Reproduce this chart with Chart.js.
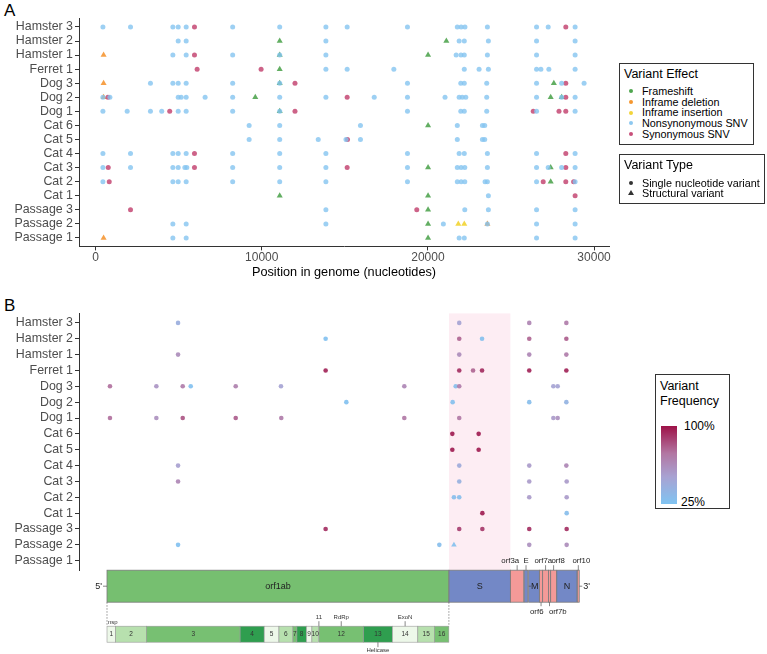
<!DOCTYPE html>
<html>
<head>
<meta charset="utf-8">
<script src="https://cdn.jsdelivr.net/npm/chart.js@4.4.0/dist/chart.umd.min.js"></script>
<style>
  body { margin: 0; width: 767px; height: 654px; background: #fff; position: relative; overflow: hidden;
         font-family: "Liberation Sans", Arial, sans-serif; }
  canvas { position: absolute; left: 0; }
  #chartA { top: 0; }
  #chartB { top: 295px; }
  .tag { position: absolute; left: 4px; font-size: 17px; color: #000; }
  .legend { position: absolute; border: 1px solid #333; background: #fff; color: #000; box-sizing: border-box; }
  .legend .title { position: absolute; left: 4px; font-size: 12.5px; line-height: 15px; white-space: nowrap; }
  .legend .items { position: absolute; left: 0; right: 0; }
  .item { position: relative; font-size: 10.8px; padding-left: 22px; white-space: nowrap; }
  .dot { position: absolute; left: 9px; top: 50%; width: 4px; height: 4px; margin-top: -2px; border-radius: 50%; }
  .tri { position: absolute; left: 8px; top: 50%; margin-top: -3px; width: 0; height: 0;
         border-left: 3px solid transparent; border-right: 3px solid transparent; border-bottom: 5px solid #333; }
</style>
</head>
<body>
<div class="tag" style="top:1px">A</div>
<div class="tag" style="top:296px">B</div>
<canvas id="chartA" width="767" height="285"></canvas>
<canvas id="chartB" width="767" height="359"></canvas>

<div class="legend" style="left:619px; top:63px; width:135px; height:82px;">
  <div class="title" style="top:3px">Variant Effect</div>
  <div class="items" style="top:22px; line-height:10.7px;">
    <div class="item"><span class="dot" style="background:#4fa64f"></span>Frameshift</div>
    <div class="item"><span class="dot" style="background:#f5962f"></span>Inframe deletion</div>
    <div class="item"><span class="dot" style="background:#f2d43a"></span>Inframe insertion</div>
    <div class="item"><span class="dot" style="background:#8dc8f0"></span>Nonsynonymous SNV</div>
    <div class="item"><span class="dot" style="background:#c8507a"></span>Synonymous SNV</div>
  </div>
</div>
<div class="legend" style="left:619px; top:154px; width:146px; height:50px;">
  <div class="title" style="top:3px">Variant Type</div>
  <div class="items" style="top:22.5px; line-height:10.4px;">
    <div class="item"><span class="dot" style="background:#333"></span>Single nucleotide variant</div>
    <div class="item"><span class="tri"></span>Structural variant</div>
  </div>
</div>
<div class="legend" style="left:655px; top:374px; width:75px; height:135px;">
  <div class="title" style="top:4px; font-size:12.5px; line-height:14.5px;">Variant<br>Frequency</div>
  <div id="freqBar" style="position:absolute; left:5px; top:51px; width:16px; height:78px;"></div>
  <div style="position:absolute; left:28px; top:44px; font-size:12px;">100%</div>
  <div style="position:absolute; left:25px; top:120px; font-size:12px;">25%</div>
</div>

<script>
// rows, bottom to top
const hosts = ['Passage 1', 'Passage 2', 'Passage 3', 'Cat 1', 'Cat 2', 'Cat 3', 'Cat 4', 'Cat 5', 'Cat 6',
  'Dog 1', 'Dog 2', 'Dog 3', 'Ferret 1', 'Hamster 1', 'Hamster 2', 'Hamster 3'];
const genomeTicks = [0, 10000, 20000, 30000];

// panel A: variant positions (nt) per host, one list per effect
const nonsynSNV = [
  ['Hamster 3', [440, 2100, 4650, 4970, 5450, 8250, 11080, 13860, 15140, 18770, 21770, 22000, 22230, 23580, 26540, 27240, 28860]],
  ['Hamster 2', [4970, 5450, 13860, 21880, 22190, 23640, 26540, 28860]],
  ['Hamster 1', [4650, 5450, 8250, 11080, 13860, 21700, 21990, 22190, 23580, 26540, 28860]],
  ['Ferret 1', [13860, 15140, 17950, 22190, 23080, 23640, 26540, 26800, 27280, 28860]],
  ['Dog 3', [3300, 4650, 4970, 5450, 8250, 11080, 18770, 21980, 22190, 23540, 26540, 28050, 29400]],
  ['Dog 2', [440, 860, 4970, 5150, 5450, 6590, 8250, 11080, 13860, 16770, 18770, 21030, 21880, 22070, 22280, 23540, 26540, 28050, 28860]],
  ['Dog 1', [440, 1900, 3300, 3980, 4970, 5450, 8250, 11080, 18770, 21980, 22190, 23540, 26540, 28860]],
  ['Cat 6', [9240, 11080, 15940, 21770, 23280, 23420]],
  ['Cat 5', [9240, 11080, 13400, 15070, 15940, 21770, 23280, 23420]],
  ['Cat 4', [440, 2100, 4650, 4970, 5450, 8250, 11080, 13860, 18770, 21880, 22190, 23580, 26540, 28860]],
  ['Cat 3', [440, 2100, 4650, 4970, 5370, 5490, 8250, 11080, 13860, 18770, 21770, 22000, 22220, 23580, 26540, 27240, 28050, 28860]],
  ['Cat 2', [440, 4650, 4970, 5450, 8250, 11080, 13860, 18770, 21770, 22000, 22220, 23440, 23580, 26540, 28860]],
  ['Cat 1', [23640]],
  ['Passage 3', [13860, 22220, 23640, 26540, 28860]],
  ['Passage 2', [4650, 5450, 13860, 20930, 23580, 26540, 28860]],
  ['Passage 1', [4650, 5450, 21880, 22190, 26540, 28860]]
];
const synSNV = [
  ['Hamster 3', [5950, 28300]],
  ['Hamster 1', [5950]],
  ['Ferret 1', [6110, 9960]],
  ['Dog 3', [12000, 28300]],
  ['Dog 2', [740, 15140, 28300]],
  ['Dog 1', [4460, 12000, 26340, 27890, 28300]],
  ['Cat 5', [15160]],
  ['Cat 4', [5950, 28300]],
  ['Cat 3', [760, 5950, 15140, 28300]],
  ['Cat 2', [820, 26940, 28300, 28770]],
  ['Cat 1', [28860]],
  ['Passage 3', [2100, 19330]]
];
const frameshift = [
  ['Hamster 2', [11080, 21110]],
  ['Hamster 1', [11080, 20010]],
  ['Ferret 1', [11080]],
  ['Dog 3', [11080, 27580]],
  ['Dog 2', [9610, 27390, 28050]],
  ['Dog 1', [11080]],
  ['Cat 6', [20010]],
  ['Cat 3', [20010, 27390]],
  ['Cat 2', [27390]],
  ['Cat 1', [11080, 20010]],
  ['Passage 3', [20010]],
  ['Passage 2', [20010]],
  ['Passage 1', [20010]]
];
const inframeDel = [
  ['Hamster 1', [480]],
  ['Dog 3', [480]],
  ['Dog 2', [480]],
  ['Passage 2', [23580]],
  ['Passage 1', [480]]
];
const inframeIns = [
  ['Passage 2', [21830, 22190]]
];

// panel B: [host, position, frequency]
const freqSNV = [
  ['Hamster 3', 4690, 0.42], ['Hamster 3', 22200, 0.5], ['Hamster 3', 26560, 0.66], ['Hamster 3', 28870, 0.7],
  ['Hamster 2', 13880, 0.27], ['Hamster 2', 22200, 0.78], ['Hamster 2', 23620, 0.28], ['Hamster 2', 26560, 0.78], ['Hamster 2', 28870, 0.8],
  ['Hamster 1', 4690, 0.62], ['Hamster 1', 22200, 0.62], ['Hamster 1', 26560, 0.65], ['Hamster 1', 28870, 0.7],
  ['Ferret 1', 13880, 0.95], ['Ferret 1', 22200, 0.92], ['Ferret 1', 23060, 0.78], ['Ferret 1', 23620, 0.93], ['Ferret 1', 26560, 0.95], ['Ferret 1', 28870, 0.95],
  ['Dog 3', 450, 0.75], ['Dog 3', 3340, 0.58], ['Dog 3', 4980, 0.7], ['Dog 3', 5480, 0.27], ['Dog 3', 8280, 0.68], ['Dog 3', 11100, 0.5],
  ['Dog 3', 18780, 0.65], ['Dog 3', 21980, 0.3], ['Dog 3', 22200, 0.7], ['Dog 3', 28060, 0.5], ['Dog 3', 28330, 0.5],
  ['Dog 2', 15170, 0.27], ['Dog 2', 21790, 0.28], ['Dog 2', 26560, 0.3], ['Dog 2', 28870, 0.38],
  ['Dog 1', 450, 0.75], ['Dog 1', 3340, 0.6], ['Dog 1', 4980, 0.82], ['Dog 1', 8280, 0.8], ['Dog 1', 11120, 0.7],
  ['Dog 1', 18780, 0.72], ['Dog 1', 22200, 0.72], ['Dog 1', 28060, 0.55], ['Dog 1', 28330, 0.6],
  ['Cat 6', 21770, 0.97], ['Cat 6', 23410, 0.97],
  ['Cat 5', 21770, 0.97], ['Cat 5', 23410, 0.97],
  ['Cat 4', 4690, 0.52], ['Cat 4', 22200, 0.45], ['Cat 4', 26560, 0.55], ['Cat 4', 28870, 0.65],
  ['Cat 3', 4690, 0.65], ['Cat 3', 22200, 0.4], ['Cat 3', 26560, 0.55], ['Cat 3', 28890, 0.55],
  ['Cat 2', 21870, 0.3], ['Cat 2', 22200, 0.3], ['Cat 2', 26560, 0.55], ['Cat 2', 28890, 0.55],
  ['Cat 1', 23640, 0.97], ['Cat 1', 28890, 0.3],
  ['Passage 3', 13880, 0.92], ['Passage 3', 22200, 0.88], ['Passage 3', 23640, 0.9], ['Passage 3', 26560, 0.92], ['Passage 3', 28890, 0.92],
  ['Passage 2', 4690, 0.27], ['Passage 2', 20960, 0.3], ['Passage 2', 26560, 0.6], ['Passage 2', 28890, 0.62]
];
const freqSV = [
  ['Passage 2', 21870, 0.28]
];

// genome annotation (nt)
const geneNames = ['orf1ab', 'S', 'orf3a', 'E', 'M', 'orf6', 'orf7a', 'orf7b', 'orf8', 'N', 'orf10'];
const geneStarts = [266, 21563, 25393, 26245, 26523, 27202, 27394, 27756, 27894, 28274, 29558];
const geneEnds = [21555, 25384, 26220, 26472, 27191, 27387, 27759, 27887, 28259, 29533, 29674];
const nspNames = ['1', '2', '3', '4', '5', '6', '7', '8', '9', '10', '11', '12', '13', '14', '15', '16'];
const nspStarts = [266, 806, 2720, 8555, 10055, 10973, 11843, 12092, 12686, 13025, 13442, 13468, 16237, 18040, 19621, 20659];
const nspEnds = [805, 2719, 8554, 10054, 10972, 11842, 12091, 12685, 13024, 13441, 13480, 16236, 18039, 19620, 20658, 21552];

const fontFam = '"Liberation Sans", Arial, sans-serif';
const axisColor = '#333';
const effectColors = {
  frameshift: 'rgba(70,160,70,0.85)',
  del: 'rgba(245,145,40,0.85)',
  ins: 'rgba(242,212,50,0.9)',
  nonsyn: 'rgba(133,196,240,0.8)',
  syn: 'rgba(196,72,115,0.85)'
};
const geneColors = { orf1ab: '#76bf70', S: '#7388c6', E: '#7388c6', M: '#7388c6', N: '#7388c6' };
const nspShades = ['#edf8e9', '#b7e0ae', '#77c072', '#2f9e4f'];
const freqStops = [[0, [128, 196, 242]], [0.35, [168, 162, 210]], [0.65, [178, 118, 162]], [1, [158, 18, 72]]];

function freqColor(f) {
  const t = Math.max(0, Math.min(1, (f - 0.25) / 0.75));
  for (let i = 1; i < freqStops.length; i++) {
    if (t <= freqStops[i][0]) {
      const [t0, c0] = freqStops[i - 1], [t1, c1] = freqStops[i];
      const k = (t - t0) / (t1 - t0);
      return 'rgba(' + c0.map((c, j) => Math.round(c + (c1[j] - c) * k)).join(',') + ',0.92)';
    }
  }
}
document.getElementById('freqBar').style.background = 'linear-gradient(to top, ' +
  freqStops.map(s => 'rgb(' + s[1].join(',') + ') ' + (s[0] * 100) + '%').join(', ') + ')';

function toPoints(list) {
  return list.flatMap(([host, positions]) => positions.map(p => ({ x: p, y: hosts.indexOf(host) + 1 })));
}

function yAxis() {
  return {
    type: 'linear', min: 0.4, max: 16.6,
    afterFit: s => { s.width = 79; },
    afterBuildTicks: s => { s.ticks = hosts.map((h, i) => ({ value: i + 1 })); },
    ticks: { callback: v => hosts[v - 1], color: '#4d4d4d', font: { family: fontFam, size: 12.4 }, padding: 2, autoSkip: false },
    grid: { drawOnChartArea: false, tickLength: 4, color: axisColor },
    border: { color: axisColor, width: 1 }
  };
}

const common = {
  responsive: false, animation: false, devicePixelRatio: 1,
  plugins: { legend: { display: false }, tooltip: { enabled: false } }
};

new Chart(document.getElementById('chartA'), {
  type: 'scatter',
  data: {
    datasets: [
      { data: toPoints(nonsynSNV), backgroundColor: effectColors.nonsyn, pointStyle: 'circle', pointRadius: 2.5 },
      { data: toPoints(synSNV), backgroundColor: effectColors.syn, pointStyle: 'circle', pointRadius: 2.5 },
      { data: toPoints(frameshift), backgroundColor: effectColors.frameshift, pointStyle: 'triangle', pointRadius: 3.5 },
      { data: toPoints(inframeDel), backgroundColor: effectColors.del, pointStyle: 'triangle', pointRadius: 3.5 },
      { data: toPoints(inframeIns), backgroundColor: effectColors.ins, pointStyle: 'triangle', pointRadius: 3.5 }
    ].map(d => Object.assign(d, { borderWidth: 0 }))
  },
  options: Object.assign({}, common, {
    layout: { padding: { top: 18.5, right: 158, bottom: 5, left: 0 } },
    scales: {
      x: {
        type: 'linear', min: -1000, max: 30900,
        afterBuildTicks: s => { s.ticks = genomeTicks.map(v => ({ value: v })); },
        afterFit: s => { s.height = 33.6; },
        ticks: { callback: v => String(v), color: '#4d4d4d', font: { family: fontFam, size: 12 }, padding: 0 },
        grid: { drawOnChartArea: false, tickLength: 4, color: axisColor },
        border: { color: axisColor, width: 1 },
        title: { display: true, text: 'Position in genome (nucleotides)', color: '#000',
                 font: { family: fontFam, size: 12.7 }, padding: { top: 0, bottom: 0 } }
      },
      y: yAxis()
    }
  })
});

const genomeMap = {
  id: 'genomeMap',
  beforeDatasetsDraw(chart) {
    const { ctx, chartArea } = chart;
    const x = chart.scales.x;
    const s = geneNames.indexOf('S');
    const x0 = x.getPixelForValue(geneStarts[s]), x1 = x.getPixelForValue(geneEnds[s]);
    ctx.save();
    ctx.fillStyle = '#fdedf3';
    ctx.fillRect(x0, chartArea.top, x1 - x0, chartArea.bottom - chartArea.top);
    ctx.restore();
  },
  afterDraw(chart) {
    const { ctx, chartArea } = chart;
    const x = chart.scales.x;
    const px = v => x.getPixelForValue(v);
    const top = chartArea.bottom, h = 32;
    ctx.save();
    // gene boxes
    geneNames.forEach((g, i) => {
      const a = px(geneStarts[i]), b = px(geneEnds[i]);
      ctx.fillStyle = geneColors[g] || '#f49a98';
      ctx.fillRect(a, top, b - a, h);
      ctx.strokeStyle = '#7a7a7a';
      ctx.lineWidth = 0.8;
      ctx.strokeRect(a, top, b - a, h);
    });
    ctx.fillStyle = '#222';
    ctx.textAlign = 'center';
    ctx.textBaseline = 'middle';
    ctx.font = '9px ' + fontFam;
    ['orf1ab', 'S', 'M', 'N'].forEach(g => {
      const i = geneNames.indexOf(g);
      ctx.fillText(g, (px(geneStarts[i]) + px(geneEnds[i])) / 2 + (g === 'M' ? 0.8 : 0), top + h / 2 + 0.5);
    });
    ctx.strokeStyle = '#555';
    ctx.lineWidth = 0.7;
    const mi = geneNames.indexOf('M');
    ctx.beginPath();
    ctx.moveTo(px(geneStarts[mi]), top + h / 2); ctx.lineTo(px(geneStarts[mi]) + 2.5, top + h / 2);
    ctx.stroke();
    // small genes: labels with leader lines
    const above = { orf3a: -6.9, E: 0.2, orf7a: -2.3, orf8: 4.5, orf10: 3 };
    const below = { orf6: -4.3, orf7b: 8.3 };
    ctx.font = '7.8px ' + fontFam;
    geneNames.forEach((g, i) => {
      const c = (px(geneStarts[i]) + px(geneEnds[i])) / 2;
      if (g in above) {
        ctx.beginPath(); ctx.moveTo(c, top - 5); ctx.lineTo(c, top); ctx.stroke();
        ctx.fillText(g, c + above[g], top - 9.5);
      } else if (g in below) {
        ctx.beginPath(); ctx.moveTo(c, top + h); ctx.lineTo(c, top + h + 4); ctx.stroke();
        ctx.fillText(g, c + below[g], top + h + 10);
      }
    });
    // 5' / 3' ends
    const g0 = px(geneStarts[0]), gn = px(geneEnds[geneEnds.length - 1]);
    ctx.beginPath();
    ctx.moveTo(g0 - 4, top + h / 2); ctx.lineTo(g0, top + h / 2);
    ctx.moveTo(gn, top + h / 2); ctx.lineTo(gn + 3, top + h / 2);
    ctx.stroke();
    ctx.font = '9px ' + fontFam;
    ctx.textAlign = 'right';
    ctx.fillText("5'", g0 - 5, top + h / 2);
    ctx.textAlign = 'left';
    ctx.fillText("3'", gn + 4, top + h / 2);

    // nsp sub-map of orf1ab
    const nTop = top + 56, nH = 16;
    ctx.setLineDash([1.5, 1.5]);
    ctx.strokeStyle = '#666';
    ctx.beginPath();
    ctx.moveTo(g0, top + h); ctx.lineTo(g0, nTop);
    const e1 = px(geneEnds[0]);
    ctx.moveTo(e1, top + h); ctx.lineTo(e1, nTop);
    ctx.stroke();
    ctx.setLineDash([]);
    let shade = 0;
    nspNames.forEach((n, i) => {
      const a = px(nspStarts[i]), b = px(nspEnds[i]);
      if (n === '11') return;
      ctx.fillStyle = nspShades[shade % 4];
      shade++;
      ctx.fillRect(a, nTop, b - a, nH);
      ctx.strokeStyle = '#9a9a9a';
      ctx.lineWidth = 0.6;
      ctx.strokeRect(a, nTop, b - a, nH);
    });
    ctx.fillStyle = '#333';
    ctx.textAlign = 'center';
    ctx.font = '6.5px ' + fontFam;
    nspNames.forEach((n, i) => {
      if (n === '11') return;
      ctx.fillText(n, (px(nspStarts[i]) + px(nspEnds[i])) / 2, nTop + nH / 2 + 0.5);
    });
    ctx.font = '6px ' + fontFam;
    ctx.textAlign = 'left';
    ctx.fillText('nsp', g0 + 1, nTop - 4);
    ctx.textAlign = 'center';
    ctx.strokeStyle = '#555';
    ctx.lineWidth = 0.7;
    const tags = [['11', 10, -1], ['RdRp', 11, -1], ['ExoN', 13, -1], ['Helicase', 12, 1]];
    tags.forEach(([label, i, dir]) => {
      const c = (px(nspStarts[i]) + px(nspEnds[i])) / 2;
      ctx.beginPath();
      if (dir < 0) { ctx.moveTo(c, nTop - 5); ctx.lineTo(c, nTop); }
      else { ctx.moveTo(c, nTop + nH); ctx.lineTo(c, nTop + nH + 5); }
      ctx.stroke();
      ctx.fillText(label, c, dir < 0 ? nTop - 9 : nTop + nH + 8.5);
    });
    ctx.restore();
  }
};

const toFreqPoints = list => list.map(([host, p, f]) => ({ x: p, y: hosts.indexOf(host) + 1, f }));
const snvB = toFreqPoints(freqSNV), svB = toFreqPoints(freqSV);

new Chart(document.getElementById('chartB'), {
  type: 'scatter',
  data: {
    datasets: [
      { data: snvB, backgroundColor: snvB.map(p => freqColor(p.f)), pointStyle: 'circle', pointRadius: 2.3, borderWidth: 0 },
      { data: svB, backgroundColor: svB.map(p => freqColor(p.f)), pointStyle: 'triangle', pointRadius: 3.2, borderWidth: 0 }
    ]
  },
  options: Object.assign({}, common, {
    layout: { padding: { top: 18.4, right: 158, bottom: 83.8, left: 0 } },
    scales: {
      x: { type: 'linear', display: false, min: -1478, max: 31526 },
      y: yAxis()
    }
  }),
  plugins: [genomeMap]
});
</script>
</body>
</html>
